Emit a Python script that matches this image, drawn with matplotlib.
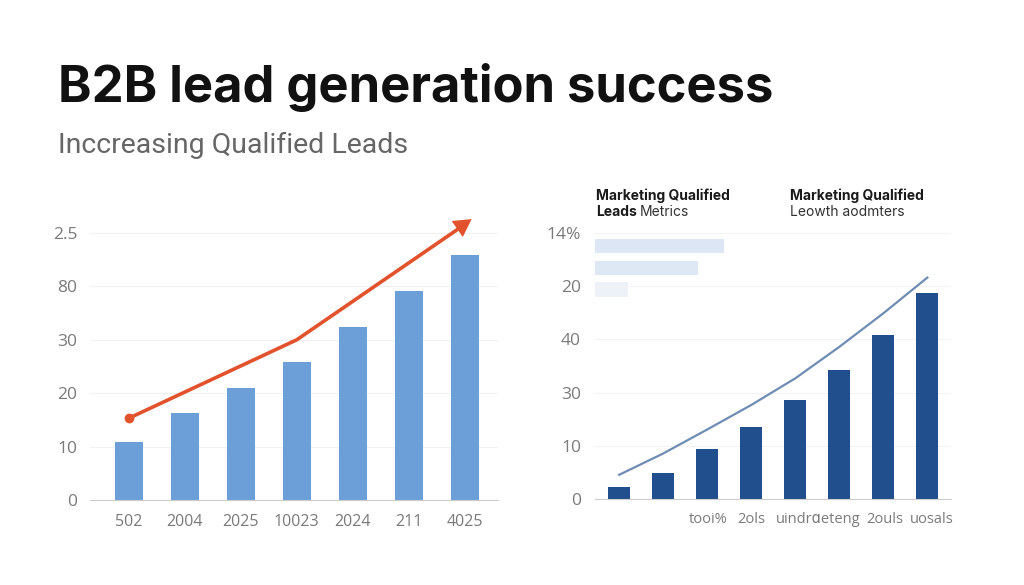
import matplotlib
matplotlib.use("Agg")
import matplotlib.pyplot as plt
import numpy as np

# ---------------- data ----------------
left_categories = ["502", "2004", "2025", "10023", "2024", "211", "4025"]
left_values = [1.09, 1.63, 2.10, 2.59, 3.24, 3.92, 4.59]
left_ytick_labels = ["0", "10", "20", "30", "80", "2.5"]
trend_x = [0, 3, 6.12]
trend_values = [1.53, 3.0, 5.26]

right_values = [0.24, 0.49, 0.94, 1.36, 1.86, 2.43, 3.08, 3.88]
right_line = [0.46, 0.86, 1.31, 1.77, 2.27, 2.86, 3.49, 4.16]
right_ytick_labels = ["0", "10", "30", "40", "20", "14%"]
right_xtick_pos = [2.03, 3.0, 4.53, 6.04, 7.1]
right_xtick_labels = ["tooi%", "2ols", "uindrɑeteng", "2ouls", "uosals"]
legend_bar_widths = [2.92, 2.35, 0.75]
legend_bar_levels = [4.75, 4.34, 3.94]
legend_bar_colors = ["#DCE6F4", "#DEE8F5", "#EDF2F9"]

# ---------------- figure ----------------
fig = plt.figure(figsize=(10.24, 5.85), dpi=100)
fig.patch.set_facecolor("white")

fig.text(58 / 1024, 1 - 102 / 585, "B2B lead generation success",
         fontsize=36.5, fontweight="bold", family="Inter", color="#111111",
         va="baseline", ha="left")
fig.text(58 / 1024, 1 - 153 / 585, "Inccreasing Qualified Leads",
         fontsize=20.5, family="Roboto", color="#666666",
         va="baseline", ha="left")

tick_color = "#7a7a7a"
tick_font = ["Open Sans", "DejaVu Sans"]

# ---------------- left chart ----------------
axL = fig.add_axes([90 / 1024, (585 - 500) / 585, 408 / 1024, 288.4 / 585])
xl = np.arange(len(left_categories))
axL.bar(xl, left_values, width=0.5, color="#6C9FD8", zorder=2)
axL.plot(trend_x[:-1] + [trend_x[-1] - 0.15], trend_values[:-1] + [trend_values[-1] - 0.12],
         color="#E2522C", lw=2.6, zorder=3, solid_capstyle="round")
axL.annotate("", xy=(trend_x[-1], trend_values[-1]),
             xytext=(trend_x[-2], trend_values[-2]),
             arrowprops=dict(arrowstyle="-|>,head_length=0.9,head_width=0.5",
                             color="#E2522C", lw=0, shrinkA=0, shrinkB=0,
                             mutation_scale=14), zorder=4)
axL.plot([trend_x[0]], [trend_values[0]], "o", color="#E2522C", ms=6, zorder=4)
axL.set_xlim(-0.69, 6.59)
axL.set_ylim(0, 5.4)
axL.set_yticks(range(len(left_ytick_labels)))
axL.set_yticklabels(left_ytick_labels, family=tick_font, fontsize=12.5)
axL.set_xticks(xl)
axL.set_xticklabels(left_categories, family=tick_font, fontsize=11.5)
axL.grid(axis="y", color="#F1F1F1", lw=0.8, zorder=0)
for s in ["top", "right", "left"]:
    axL.spines[s].set_visible(False)
axL.spines["bottom"].set_color("#CCCCCC")
axL.tick_params(length=0, colors=tick_color)
axL.tick_params(axis="y", pad=9)
axL.tick_params(axis="x", pad=10)

# ---------------- right chart ----------------
axR = fig.add_axes([595 / 1024, (585 - 499.3) / 585, 355.7 / 1024, 287.8 / 585])
xr = np.arange(len(right_values))
axR.bar(xr, right_values, width=0.5, color="#214E8D", zorder=2)
axR.plot(xr, right_line, color="#6F8DB4", lw=1.6, zorder=3)
axR.barh(legend_bar_levels, legend_bar_widths, left=-0.55, height=0.27,
         color=legend_bar_colors, zorder=1)
axR.set_xlim(-0.55, 7.53)
axR.set_ylim(0, 5.4)
axR.set_yticks(range(len(right_ytick_labels)))
axR.set_yticklabels(right_ytick_labels, family=tick_font, fontsize=12.5)
axR.set_xticks(right_xtick_pos)
axR.set_xticklabels(right_xtick_labels, family=tick_font, fontsize=10.5)
axR.grid(axis="y", color="#F3F3F3", lw=0.8, zorder=0)
for s in ["top", "right", "left"]:
    axR.spines[s].set_visible(False)
axR.spines["bottom"].set_color("#CCCCCC")
axR.tick_params(length=0, colors=tick_color)
axR.tick_params(axis="y", pad=10)
axR.tick_params(axis="x", pad=9)

# headers
fig.text(596 / 1024, 1 - 200 / 585, "Marketing Qualified", fontsize=10, fontweight="bold",
         family="Inter", color="#1a1a1a", va="baseline", ha="left")
t = fig.text(596 / 1024, 1 - 216.5 / 585, "Leads", fontsize=10, fontweight="bold",
             family="Inter", color="#1a1a1a", va="baseline", ha="left")
fig.canvas.draw()
bb = t.get_window_extent()
fig.text((bb.x1 + 3) / 1024, 1 - 216.5 / 585, "Metrics", fontsize=10,
         family="Inter", color="#333333", va="baseline", ha="left")
fig.text(790 / 1024, 1 - 200 / 585, "Marketing Qualified", fontsize=10,
         fontweight="bold", family="Inter", color="#1a1a1a",
         va="baseline", ha="left")
fig.text(790 / 1024, 1 - 216.5 / 585, "Leowth aodmters", fontsize=10,
         family="Inter", color="#333333", va="baseline", ha="left")

fig.savefig("out.png", dpi=100, facecolor="white")
